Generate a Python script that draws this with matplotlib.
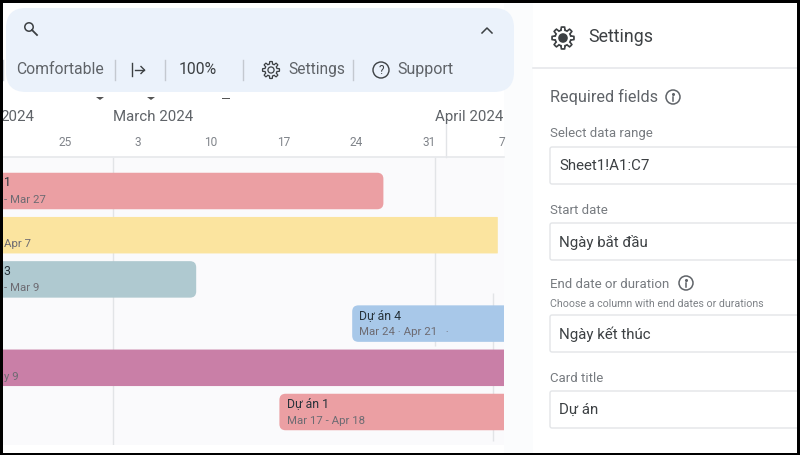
import numpy as np
import pandas as pd
import matplotlib
matplotlib.use('Agg')
import matplotlib.pyplot as plt
import matplotlib.dates as mdates
from matplotlib.patches import FancyBboxPatch, Circle, Polygon, Rectangle

plt.rcParams['font.family'] = ['Roboto', 'DejaVu Sans']

# --------------------------
# timeline data
starts = ['2024-02-15', '2024-02-15', '2024-02-15', '2024-03-24', '2024-02-15', '2024-03-17']
ends = ['2024-03-27', '2024-04-07', '2024-03-09', '2024-04-21', '2024-05-09', '2024-04-18']
bar_colors = ['#eb9fa3', '#fbe49f', '#afc9d0', '#a8c8e9', '#c97fa7', '#eb9fa3']
titles = ['1', '', '3', 'Dự án 4', '', 'Dự án 1']
subtitles = ['- Mar 27', 'Apr 7', '- Mar 9', 'Mar 24 · Apr 21   ·', 'y 9', 'Mar 17 - Apr 18']
square_rows = [1, 4]

week_days = ['2024-02-25', '2024-03-03', '2024-03-10', '2024-03-17', '2024-03-24', '2024-03-31', '2024-04-07']
week_labels = ['25', '3', '10', '17', '24', '31', '7']
month_days = ['2024-03-01', '2024-04-01']
month_labels = ['March 2024', 'April 2024']

# form fields of the settings panel
field_labels = ['Select data range', 'Start date', 'End date or duration', 'Card title']
field_values = ['Sheet1!A1:C7', 'Ngày bắt đầu', 'Ngày kết thúc', 'Dự án']
field_label_y = [134, 210, 285, 378]
field_top = [147, 223, 315, 391]

GREY = '#5f6368'
DARK = '#3c4043'


def num(d):
    return mdates.date2num(pd.to_datetime(d))


def gear(a, cx, cy, r, lw, dot=False):
    t = np.linspace(0, 2*np.pi, 481)
    rad = r * (0.86 + 0.14*np.clip(2.5*np.cos(8*t), -1, 1))
    a.add_patch(Polygon(np.c_[cx + rad*np.cos(t), cy + rad*np.sin(t)], closed=True,
                        fill=False, ec=DARK, lw=lw))
    a.add_patch(Circle((cx, cy), r*0.36, fc=DARK if dot else 'none', ec=DARK, lw=lw))


def info(a, cx, cy, r):
    a.add_patch(Circle((cx, cy), r, fill=False, ec=GREY, lw=1.1))
    a.plot([cx, cx], [cy-0.5, cy+r*0.55], color=GREY, lw=1.1)
    a.plot([cx], [cy-r*0.5], marker='o', ms=1.2, color=GREY)


fig = plt.figure(figsize=(8, 4.55), dpi=100)

# page chrome, drawn in pixel coordinates
ui = fig.add_axes([0, 0, 1, 1], zorder=0)
ui.set_xlim(0, 800)
ui.set_ylim(455, 0)
ui.axis('off')

ui.add_patch(Rectangle((504, 0), 29, 455, fc='#fbfcfd', ec='none'))
ui.add_patch(FancyBboxPatch((6, 8), 508, 84, boxstyle='round,pad=0,rounding_size=20',
                            fc='#ebf2fb', ec='none'))

# toolbar
ui.add_patch(Circle((29, 27), 4.2, fill=False, ec=DARK, lw=1.1))
ui.plot([32, 37], [30, 35], color=DARK, lw=1.3)
ui.plot([482, 487, 492], [33, 28, 33], color=DARK, lw=1.1)
ui.text(16, 69, 'Comfortable', fontsize=11.3, color=GREY, va='center')
for sx in [3, 115, 165, 243, 353]:
    ui.plot([sx, sx], [60, 80], color='#c4c9d0', lw=1)
ui.plot([132, 132], [63, 76], color=DARK, lw=1)
ui.plot([135, 144], [70, 70], color=DARK, lw=1)
ui.plot([141, 144.5, 141], [66.5, 70, 73.5], color=DARK, lw=1)
ui.text(179, 70, '100%', fontsize=11.3, color=DARK, va='center')
gear(ui, 271, 70, 8.5, 0.9)
ui.text(288, 69.5, 'Settings', fontsize=11.2, color=GREY, va='center')
ui.add_patch(Circle((381, 70), 8, fill=False, ec=DARK, lw=1))
ui.text(381, 70, '?', fontsize=8.5, color=DARK, ha='center', va='center')
ui.text(397, 69.5, 'Support', fontsize=11.5, color=GREY, va='center')
for mx in [100, 151]:
    ui.add_patch(Polygon([(mx-4, 97), (mx+4, 97), (mx, 100)], fc='#555555', ec='none'))
ui.add_patch(Rectangle((222, 98), 8, 1.2, fc='#555555', ec='none'))

# settings panel
gear(ui, 563, 38, 11, 1.2, dot=True)
ui.text(588, 37.5, 'Settings', fontsize=12.8, color=DARK, va='center')
ui.plot([533, 797], [68, 68], color='#e6e8eb', lw=1.2)
ui.text(550, 97, 'Required fields', fontsize=11.7, color=GREY, va='center')
info(ui, 673, 97, 7)
for lab, val, ly, top in zip(field_labels, field_values, field_label_y, field_top):
    ui.text(550, ly, lab, fontsize=9.5, color='#777b80', va='center')
    ui.add_patch(FancyBboxPatch((550, top), 262, 37, boxstyle='round,pad=0,rounding_size=2',
                                fc='#ffffff', ec='#e3e5e8', lw=1))
    ui.text(559, top+19, val, fontsize=10.8, color=DARK, va='center')
info(ui, 686, 283, 7)
ui.text(550, 304, 'Choose a column with end dates or durations', fontsize=7.7, color='#7d8186', va='center')

# timeline, placed so the axes span x 3-504, y 157-445 in pixels
ax = fig.add_axes([3/800, 1-445/455, 501/800, 288/455], zorder=1)
x0 = num('2024-03-01')
px_per_day = 10.4
ax.set_xlim(x0 + (3-113)/px_per_day, x0 + (504-113)/px_per_day)
row_px = 44.2
ax.set_ylim((445-191)/row_px, (157-191)/row_px)
ax.set_facecolor('#fafafc')
for s in ['left', 'right', 'bottom']:
    ax.spines[s].set_visible(False)
ax.spines['top'].set_color('#e6e8eb')
ax.spines['top'].set_linewidth(1.2)

ax.set_yticks([])
ax.xaxis.tick_top()
ax.set_xticks([num(d) + 0.4 for d in week_days])
ax.set_xticklabels(week_labels, fontsize=8.6, color='#80848a')
ax.tick_params(axis='x', length=0, pad=6)

# month dividers sit behind the bars
ax.vlines(num('2024-03-01'), -0.77, 5.75, color='#e2e4e7', lw=1, zorder=1)
ax.vlines(num('2024-04-01'), -0.77, 3.5, color='#e2e4e7', lw=1, zorder=1)
ax.vlines(num('2024-04-07') - 0.45, 2.3, 5.65, color='#e2e4e7', lw=1, zorder=1)

tr = ax.get_xaxis_transform()
left = ax.get_xlim()[0]
ax.text(left - 0.3, 1.14, '2024', transform=tr, fontsize=10.8, color=GREY, va='center', clip_on=False)
for d, lab in zip(month_days, month_labels):
    ax.text(num(d), 1.14, lab, transform=tr, fontsize=10.8, color=GREY, va='center', clip_on=False)
ax.plot([num('2024-04-02')]*2, [1.0, 1.12], transform=tr, color='#e2e4e7', lw=1, clip_on=False)

bar_h = 36.5 / row_px
for i, (s, e, c) in enumerate(zip(starts, ends, bar_colors)):
    a, b = num(s), num(e)
    size = 0.05 if i in square_rows else 0.6
    ax.add_patch(FancyBboxPatch((a, i - bar_h/2), b - a, bar_h,
                                boxstyle=f'round,pad=0,rounding_size={size}',
                                mutation_aspect=px_per_day/row_px,
                                fc=c, ec='none', zorder=2))
    tx = a + 0.7 if a > left else left + 0.05
    ax.text(tx, i - 0.19, titles[i], fontsize=8.8, color='#26323a', va='center', zorder=3, clip_on=True)
    ax.text(tx, i + 0.2, subtitles[i], fontsize=8.2, color='#6d6b72', va='center', zorder=3, clip_on=True)

# black frame of the screenshot
top = fig.add_axes([0, 0, 1, 1], zorder=2)
top.set_xlim(0, 800)
top.set_ylim(455, 0)
top.axis('off')
for r in [(0, 0, 800, 3), (0, 0, 3, 455), (797, 0, 3, 455), (0, 453, 800, 2)]:
    top.add_patch(Rectangle(r[:2], r[2], r[3], fc='black', ec='none'))

fig.savefig('out.png', dpi=100)
